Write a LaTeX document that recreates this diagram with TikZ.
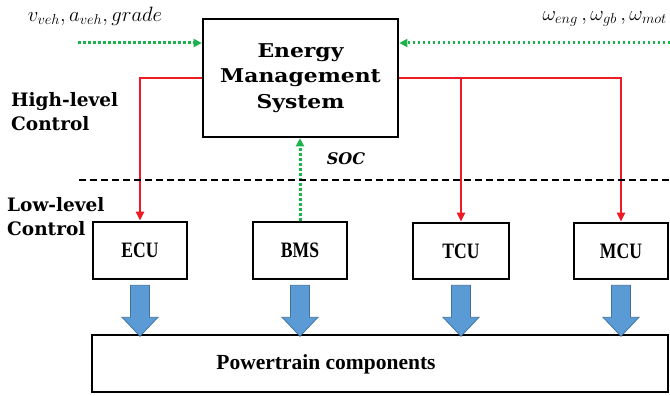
\documentclass[tikz,border=0pt]{standalone}
\usepackage{fontspec}
\setmainfont{DejaVu Serif}
\newfontfamily\condfont[FakeStretch=0.8]{Liberation Serif}
\newfontfamily\ptfont{Liberation Serif}
\newfontfamily\widefont[FakeStretch=1.15]{DejaVu Serif}
\usetikzlibrary{arrows.meta,calc}
\definecolor{redc}{HTML}{ED1C24}
\definecolor{greenc}{HTML}{1DB24B}
\definecolor{bluef}{HTML}{5B9BD5}
\definecolor{bluel}{HTML}{41719C}
\begin{document}
\begin{tikzpicture}[x=1pt,y=-1pt,
  box/.style={draw=black,line width=2.6pt,fill=white,inner sep=0pt},
  redline/.style={draw=redc,line width=2.6pt,-{Triangle[length=9pt,width=8pt]}},
  greendot/.style={draw=greenc,line width=3pt,dash pattern=on 2.5pt off 2.5pt,-{Triangle[length=8pt,width=8pt]}},
  divline/.style={draw=black,line width=2.2pt,dash pattern=on 7pt off 4pt},
  bluearrow/.style={draw=bluel,fill=bluef,line width=0.7pt},
  lbl/.style={font=\bfseries\fontsize{18.5}{24}\selectfont,align=left,inner sep=0pt,anchor=west},
  unit/.style={font=\condfont\bfseries\fontsize{22}{24}\selectfont}
]
\useasboundingbox (0,0) rectangle (670,396);

\node[box,minimum width=195pt,minimum height=118pt,align=center,
  font=\widefont\bfseries\fontsize{19}{25.5}\selectfont] (ems) at (300.5,78) {Energy\\Management\\System};

\node[box,minimum width=94pt,minimum height=57pt,unit] (ecu) at (140,250.5) {ECU};
\node[box,minimum width=94pt,minimum height=57pt,unit] (bms) at (300,250.5) {BMS};
\node[box,minimum width=96pt,minimum height=56pt,unit] (tcu) at (461,251) {TCU};
\node[box,minimum width=94pt,minimum height=56pt,unit] (mcu) at (621,251) {MCU};

\node[box,minimum width=576pt,minimum height=57pt] (pt) at (380,363.5) {};
\node[font=\ptfont\bfseries\fontsize{21.5}{24}\selectfont,inner sep=0pt] (ptlabel) at (326,364) {Powertrain components};

% red control lines
\draw[redline] (ems.west) -| (ecu.north);
\draw[redline] (ems.east) -| (tcu.north);
\draw[redline] (ems.east) -| (mcu.north);

% green signal lines
\coordinate (vin) at (78,43);
\coordinate (win) at (670,43);
\draw[greendot] (vin) -- (vin -| ems.west);
\draw[greendot] (win) -- (win -| ems.east);
\draw[greendot] (bms.north) -- (bms.north |- ems.south);

% divider
\coordinate (d1) at (79,180);
\coordinate (d2) at (670,180);
\draw[divline] (d1) -- (d2);

% blue arrows
\foreach \b in {ecu,bms,tcu,mcu}{
  \path (\b.south) ++(0,5) coordinate (t\b);
  \draw[bluearrow] (t\b) ++(-9.5,0) -- ++(19,0) -- ++(0,32) -- ++(8.5,0)
     -- ++(-18,19) -- ++(-18,-19) -- ++(8.5,0) -- cycle;
}

% labels
\node[inner sep=0pt,font=\fontsize{21.5}{24}\selectfont] (vlab) at (95,16) {$v_{veh},a_{veh},grade$};
\node[inner sep=0pt,font=\fontsize{22}{24}\selectfont,anchor=east] (wlab) at (667,19) {$\omega_{eng}\,,\omega_{gb}\,,\omega_{mot}$};
\node[lbl] (hl) at (11,112) {High-level\\Control};
\node[lbl] (ll) at (7,217) {Low-level\\Control};
\node[inner sep=0pt,font=\bfseries\itshape\fontsize{16}{18}\selectfont] (soc) at (346,159) {SOC};
\end{tikzpicture}
\end{document}
